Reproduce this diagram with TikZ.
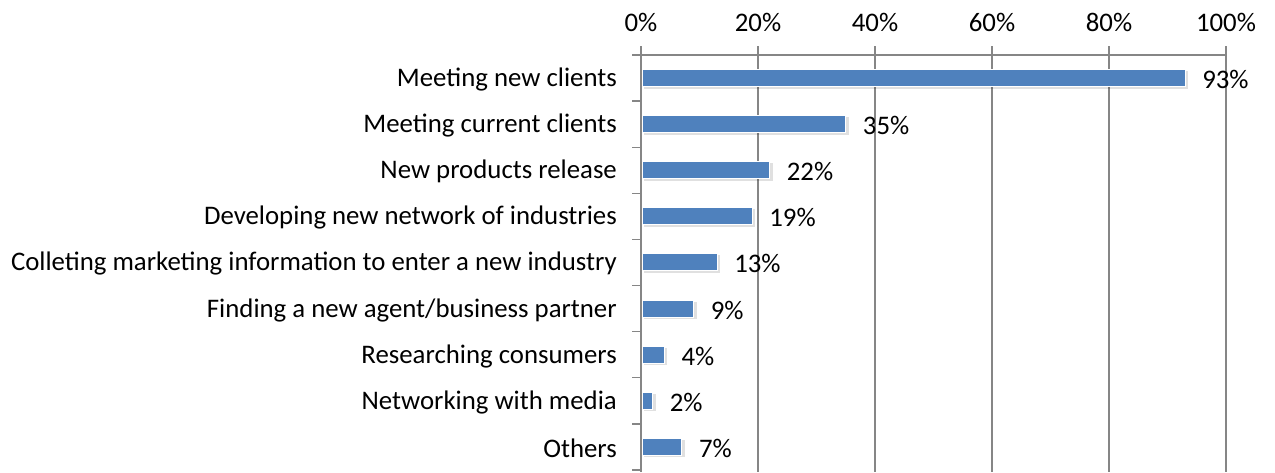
\documentclass[tikz,border=0pt]{standalone}
\usepackage{fontspec}
\setmainfont{Carlito}
\definecolor{barblue}{HTML}{4F81BD}
\definecolor{gridgray}{HTML}{868686}
\tikzset{
  grid/.style={draw=gridgray, line width=1.4pt},
  cat/.style={anchor=east, inner sep=0pt, font=\fontsize{26.8}{30}\selectfont},
  val/.style={anchor=west, inner sep=0pt, font=\fontsize{26.8}{30}\selectfont},
  ax/.style={anchor=center, inner sep=0pt, font=\fontsize{26.8}{30}\selectfont},
  bar/.style={fill=barblue, draw=white, line width=1pt},
  shade/.style={fill=black, fill opacity=0.12, draw=none}
}
\begin{document}
\begin{tikzpicture}[x=1pt,y=-1pt]
\useasboundingbox (0,0) rectangle (1275,472);
% vertical gridlines
\foreach \p in {0,20,40,60,80,100}{
  \draw[grid] ({641+5.85*\p},46) -- ({641+5.85*\p},472);
  \node[ax] (ax\p) at ({641+5.85*\p},22) {\p\%};
}
% top axis line
\draw[grid] (632,55) -- (1226,55);
% left ticks
\foreach \i in {1,...,9}{
  \draw[grid] (632,{55+46.1*\i}) -- (641,{55+46.1*\i});
}
% bars
\foreach \v/\i/\lab in {93/0/{Meeting new clients}, 35/1/{Meeting current clients}, 22/2/{New products release}, 19/3/{Developing new network of industries}, 13/4/{Colleting marketing information to enter a new industry}, 9/5/{Finding a new agent/business partner}, 4/6/{Researching consumers}, 2/7/{Networking with media}, 7/8/{Others}}{
  \pgfmathsetmacro{\yc}{78+46.1*\i}
  \pgfmathsetmacro{\xe}{641+5.85*\v}
  \fill[shade] (644,\yc-7) rectangle (\xe+3,\yc+10.5);
  \draw[bar] (642,\yc-8.5) rectangle (\xe,\yc+8.5);
  \node[cat] (c\i) at (617,\yc+1.5) {\lab};
  \node[val] (v\i) at (\xe+17,\yc+1.5) {\v\%};
}
\end{tikzpicture}
\end{document}
